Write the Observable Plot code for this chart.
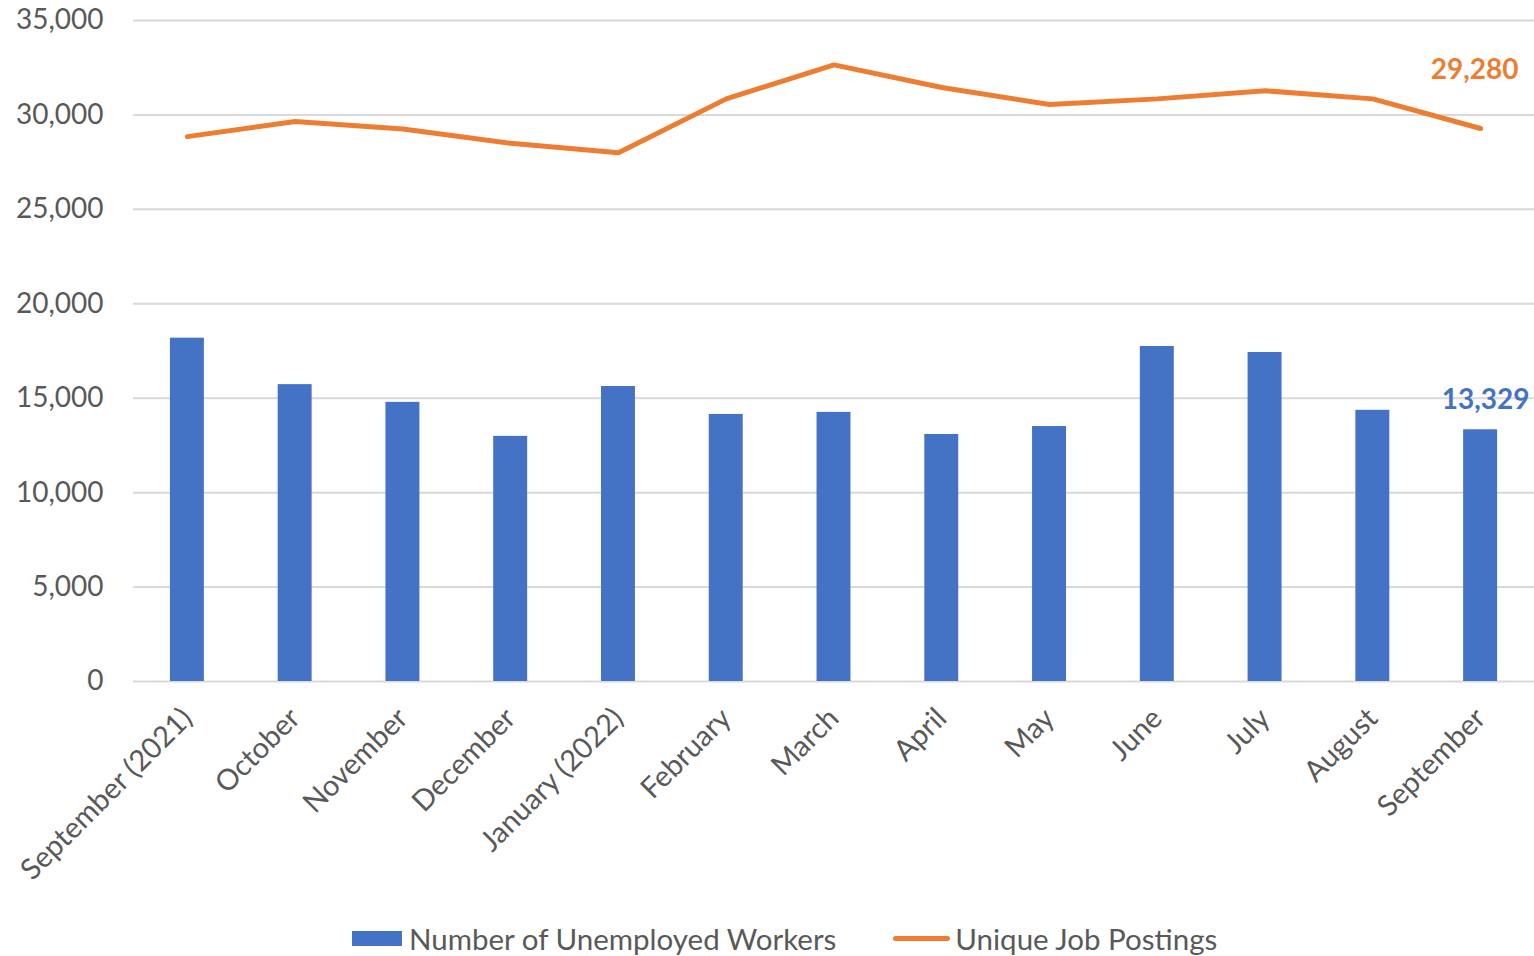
<!DOCTYPE html>
<html>
<head>
<meta charset="utf-8">
<script src="https://cdn.jsdelivr.net/npm/d3@7"></script>
<script src="https://cdn.jsdelivr.net/npm/@observablehq/plot@0.6"></script>
<style>
  html, body { margin: 0; padding: 0; background: #fff; }
  #wrap { position: relative; width: 1534px; height: 956px; font-family: Lato, "Open Sans", sans-serif; }
  #legend { position: absolute; top: 921px; left: 352px; display: flex; align-items: center; font-size: 29.5px; color: #595959; white-space: nowrap; }
  .sw-bar { width: 50px; height: 15px; background: #4472C4; margin-right: 7px; }
  .sw-line { width: 57px; height: 5px; border-radius: 3px; background: #ED7D31; margin-right: 5px; margin-left: 57px; }
</style>
</head>
<body>
<div id="wrap">
  <div id="chart"></div>
  <div id="legend">
    <div class="sw-bar"></div><span>Number of Unemployed Workers</span>
    <div class="sw-line"></div><span>Unique Job Postings</span>
  </div>
</div>
<script>
const months = ["September (2021)", "October", "November", "December", "January (2022)", "February", "March", "April", "May", "June", "July", "August", "September"];
const unemployed = [18180, 15720, 14780, 12980, 15620, 14140, 14250, 13080, 13500, 17740, 17420, 14360, 13329];
const postings = [28850, 29650, 29250, 28500, 28000, 30850, 32650, 31450, 30550, 30850, 31280, 30850, 29280];
const yTicks = [0, 5000, 10000, 15000, 20000, 25000, 30000, 35000];

const data = months.map((m, i) => ({month: m, unemployed: unemployed[i], postings: postings[i]}));
const last = [data[data.length - 1]];
const fmt = d3.format(",");

const chart = Plot.plot({
  width: 1534,
  height: 900,
  marginLeft: 133,
  marginRight: 0,
  marginTop: 20,
  marginBottom: 219,
  style: {fontFamily: "Lato, 'Open Sans', sans-serif", fontSize: "28px", color: "#595959", background: "#fff"},
  x: {domain: months, paddingInner: 0.685, paddingOuter: 0.3425, round: false, label: null},
  y: {domain: [0, 35000], label: null},
  marks: [
    Plot.gridY(yTicks, {stroke: "#d9d9d9", strokeOpacity: 1, strokeWidth: 2}),
    Plot.axisY(yTicks, {tickSize: 0, tickPadding: 30, tickFormat: fmt, fontSize: 28, fill: "#595959", label: null}),
    Plot.axisX({tickSize: 0, tickPadding: 32, tickRotate: -45, fontSize: 29, fill: "#595959", label: null}),
    Plot.barY(data, {x: "month", y: "unemployed", fill: "#4472C4"}),
    Plot.lineY(data, {x: "month", y: "postings", stroke: "#ED7D31", strokeWidth: 5, strokeLinecap: "round", strokeLinejoin: "round"}),
    Plot.text(last, {x: "month", y: "postings", text: d => fmt(d.postings), dy: -58, dx: -6, fill: "#ED7D31", fontWeight: "bold", fontSize: 28}),
    Plot.text(last, {x: "month", y: "unemployed", text: d => fmt(d.unemployed), dy: -30, dx: 5, fill: "#4472C4", fontWeight: "bold", fontSize: 28})
  ]
});
document.getElementById("chart").appendChild(chart);
</script>
</body>
</html>
